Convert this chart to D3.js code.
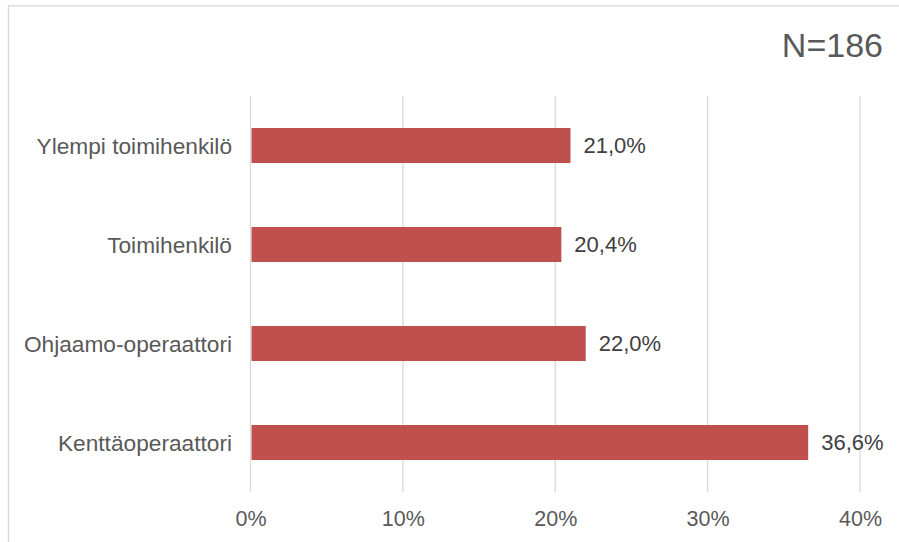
<!DOCTYPE html>
<html>
<head>
<meta charset="utf-8">
<script src="https://cdn.jsdelivr.net/npm/d3@7"></script>
<style>
  html, body { margin: 0; padding: 0; background: #fff; }
  svg { display: block; }
  text { font-family: "Liberation Sans", Arial, sans-serif; }
</style>
</head>
<body>
<svg id="chart" width="899" height="542"></svg>
<script>
// Share of respondents by job group (%)
const categories = ["Ylempi toimihenkilö", "Toimihenkilö", "Ohjaamo-operaattori", "Kenttäoperaattori"];
const values = [21.0, 20.4, 22.0, 36.6];
const tickValues = [0, 10, 20, 30, 40];
const sampleLabel = "N=186";

const svg = d3.select("#chart");
const W = 899, H = 542;

// Outer frame (top and left edges visible)
svg.append("rect")
  .attr("x", 8.5).attr("y", 5.8)
  .attr("width", W + 20).attr("height", H + 20)
  .attr("fill", "none")
  .attr("stroke", "#d9d9d9")
  .attr("stroke-width", 1.4);

const plot = { left: 250.5, right: 860, top: 96, bottom: 492 };

const x = d3.scaleLinear().domain([0, 40]).range([plot.left, plot.right]);
const y = d3.scaleBand()
  .domain(categories)
  .range([plot.top, plot.bottom])
  .paddingInner(0.646)
  .paddingOuter(0.323);

// Vertical gridlines
svg.append("g")
  .selectAll("line")
  .data(tickValues)
  .join("line")
  .attr("x1", d => x(d)).attr("x2", d => x(d))
  .attr("y1", plot.top).attr("y2", plot.bottom)
  .attr("stroke", "#d9d9d9")
  .attr("stroke-width", 1.3);

// Bars
svg.append("g")
  .selectAll("rect")
  .data(categories)
  .join("rect")
  .attr("x", x(0) + 1)
  .attr("y", d => y(d))
  .attr("width", (d, i) => x(values[i]) - x(0) - 1)
  .attr("height", y.bandwidth())
  .attr("fill", "#c0504d");

// Value labels
svg.append("g")
  .selectAll("text")
  .data(categories)
  .join("text")
  .attr("x", (d, i) => x(values[i]) + 13)
  .attr("y", d => y(d) + y.bandwidth() / 2)
  .attr("dy", "0.36em")
  .attr("font-size", 22)
  .attr("fill", "#404040")
  .text((d, i) => values[i].toFixed(1).replace(".", ",") + "%");

// Category axis labels
const yAxis = d3.axisLeft(y).tickSize(0).tickPadding(0);
const gy = svg.append("g")
  .attr("transform", `translate(${232},0)`)
  .call(yAxis);
gy.select(".domain").remove();
gy.selectAll("text")
  .attr("font-size", 22.7)
  .attr("font-family", "Liberation Sans, Arial, sans-serif")
  .attr("fill", "#595959")
  .attr("dy", "0.36em");

// Percentage axis labels
const xAxis = d3.axisBottom(x)
  .tickValues(tickValues)
  .tickSize(0)
  .tickPadding(0)
  .tickFormat(d => d + "%");
const gx = svg.append("g")
  .attr("transform", `translate(0,${511})`)
  .call(xAxis);
gx.select(".domain").remove();
gx.selectAll("text")
  .attr("font-size", 21.5)
  .attr("font-family", "Liberation Sans, Arial, sans-serif")
  .attr("fill", "#595959")
  .attr("dy", "0.71em");

// Sample size note
svg.append("text")
  .attr("x", 883)
  .attr("y", 57)
  .attr("text-anchor", "end")
  .attr("font-size", 34)
  .attr("fill", "#595959")
  .text(sampleLabel);
</script>
</body>
</html>
